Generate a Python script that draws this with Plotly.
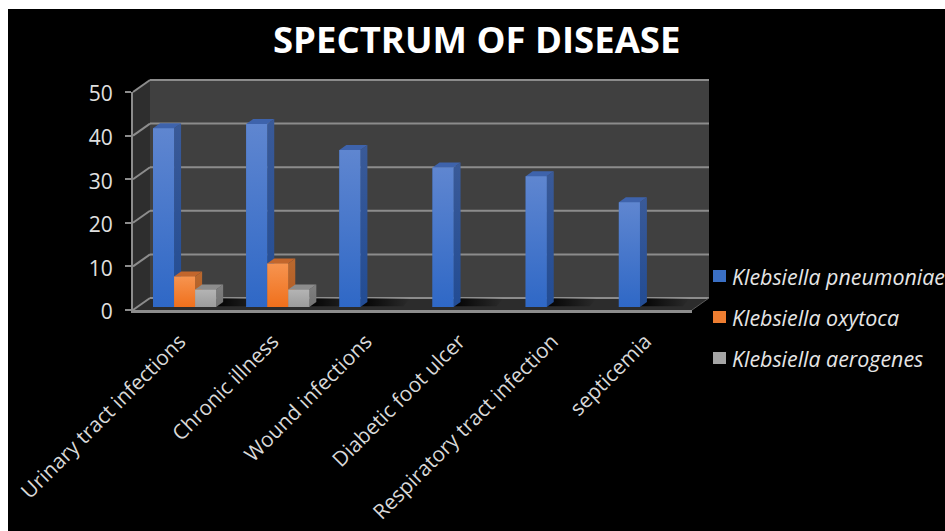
import plotly.graph_objects as go

CATEGORIES = ["Urinary tract infections", "Chronic illness", "Wound infections",
              "Diabetic foot ulcer", "Respiratory tract infection", "septicemia"]
PNEUMONIAE = [41, 42, 36, 32, 30, 24]
OXYTOCA = [7, 10, None, None, None, None]
AEROGENES = [4, 4, None, None, None, None]
SERIES_NAMES = ["Klebsiella pneumoniae", "Klebsiella oxytoca", "Klebsiella aerogenes"]
Y_TICKS = [0, 10, 20, 30, 40, 50]

W, H = 945, 531
FONT = "Open Sans"
FL, FR, FB, FT = 133, 692, 310, 92      # front plane box, px
DX, DY = 17, 12                         # wall depth, px
BX, BY = 5, 3                           # bar plane shift from the front plane, px
BAR_DX, BAR_DY = 7, 5                   # bar depth, px
GROUP = 63 / 93                         # share of a category used by bars
PX_X = (FR - FL) / len(CATEGORIES)
PX_Y = (FB - FT) / 50

STYLE = [
    dict(grad=["#2F68C6", "#5F86D0"], side=["#224C94", "#3A5A98"], top="#3E63AC", bar="#3A6FC4"),
    dict(grad=["#F0701C", "#F69450"], side=["#B35A22", "#B9692F"], top="#C2662C", bar="#ED7D31"),
    dict(grad=["#9C9C9C", "#B4B4B4"], side=["#727272", "#808080"], top="#8C8C8C", bar="#A5A5A5"),
]


def px(x):
    return x / W


def py(y):
    return 1 - y / H


def poly(points, color):
    path = "M" + " L".join(f"{px(x)},{py(y)}" for x, y in points) + " Z"
    return dict(type="path", path=path, xref="paper", yref="paper",
                fillcolor=color, line=dict(width=0), layer="below")


def seg(x0, y0, x1, y1, color="#8C8C8C", width=2):
    return dict(type="line", xref="paper", yref="paper", x0=px(x0), y0=py(y0), x1=px(x1), y1=py(y1),
                line=dict(color=color, width=width), layer="below")


def face(xs, ys, colors=None, color=None, kind="vertical"):
    kw = dict(x=xs, y=ys, xaxis="x2", yaxis="y2", mode="lines", line=dict(width=0),
              fill="toself", hoverinfo="skip", showlegend=False)
    if colors:
        kw["fillgradient"] = dict(type=kind, colorscale=[[0, colors[0]], [1, colors[1]]])
        kw["fillcolor"] = colors[0]
    else:
        kw["fillcolor"] = color
    return go.Scatter(**kw)


shapes = [
    dict(type="rect", xref="paper", yref="paper", x0=px(8), x1=1, y0=0, y1=py(9),
         fillcolor="#000000", line=dict(width=0), layer="below"),
    poly([(FL + DX, FT - DY), (FR + DX, FT - DY), (FR + DX, FB - DY), (FL + DX, FB - DY)], "#404040"),
    poly([(FL, FT), (FL + DX, FT - DY), (FL + DX, FB - DY), (FL, FB)], "#2E2E2E"),
    poly([(FL, FB), (FL + DX, FB - DY), (FR + DX, FB - DY), (FR, FB)], "#2C2C2C"),
]
for t in Y_TICKS:
    y = FB - t * PX_Y
    shapes.append(seg(FL + DX, y - DY, FR + DX, y - DY))
    shapes.append(seg(FL, y, FL + DX, y - DY))
shapes.append(seg(FR, FB, FR + DX, FB - DY, "#5A5A5A", 1))

traces = []
all_series = [PNEUMONIAE, OXYTOCA, AEROGENES]
idx = list(range(len(CATEGORIES)))
for name, vals, st in zip(SERIES_NAMES, all_series, STYLE):
    traces.append(go.Bar(x=idx, y=vals, name=name, xaxis="x2", yaxis="y2",
                         marker=dict(color=st["bar"], line=dict(width=0)), showlegend=False))

# dummy trace so the front axes (ticks, labels) are drawn
traces.append(go.Scatter(x=idx, y=[None] * len(idx), xaxis="x", yaxis="y", showlegend=False, hoverinfo="skip"))

bw = GROUP / 3
ddx, ddy = BAR_DX / PX_X, BAR_DY / PX_Y

# floor shadows
for i in idx:
    n = sum(1 for s in all_series if s[i] is not None)
    r = i - GROUP / 2 + n * bw + ddx
    sw = 36 / PX_X
    traces.append(face([r - ddx, r + sw, r + sw + ddx, r], [0.2, 0.2, 2.0, 2.0],
                       colors=["rgba(0,0,0,0.95)", "rgba(0,0,0,0)"], kind="horizontal"))

for i in idx:
    for k, (vals, st) in enumerate(zip(all_series, STYLE)):
        v = vals[i]
        if v is None:
            continue
        x0 = i - GROUP / 2 + k * bw
        x1 = x0 + bw
        traces.append(face([x1, x1 + ddx, x1 + ddx, x1, x1], [0, ddy, v + ddy, v, 0], colors=st["side"]))
        traces.append(face([x0, x1, x1 + ddx, x0 + ddx, x0], [v, v, v + ddy, v + ddy, v], color=st["top"]))
        traces.append(face([x0, x1, x1, x0, x0], [0, 0, v, v, 0], colors=st["grad"]))

annotations = [dict(text="<b>SPECTRUM OF DISEASE</b>", xref="paper", yref="paper", x=px(476.5), y=py(39),
                    xanchor="center", yanchor="middle", showarrow=False,
                    font=dict(family=FONT, size=36.5, color="#FFFFFF"))]
LEG_Y = [276, 317, 358]
for name, st, ly in zip(SERIES_NAMES, STYLE, LEG_Y):
    shapes.append(dict(type="rect", xref="paper", yref="paper", x0=px(713), x1=px(726), y0=py(ly + 6), y1=py(ly - 6),
                       fillcolor=st["bar"], line=dict(width=0)))
    annotations.append(dict(text=f"<i>{name}</i>", xref="paper", yref="paper", x=px(730), y=py(ly),
                            xanchor="left", yanchor="middle", showarrow=False, align="left",
                            font=dict(family=FONT, size=21.4, color="#E6E6E6")))

fig = go.Figure(traces)
fig.update_layout(
    width=W, height=H, autosize=False, margin=dict(l=0, r=0, t=0, b=0, pad=0),
    paper_bgcolor="#FFFFFF", plot_bgcolor="rgba(0,0,0,0)", showlegend=False,
    barmode="group", bargap=1 - GROUP, bargroupgap=0,
    shapes=shapes, annotations=annotations,
    xaxis=dict(domain=[px(FL), px(FR)], range=[-0.5, 5.5], anchor="y", tickmode="array", automargin=False,
               tickvals=idx, ticktext=CATEGORIES, tickangle=-45, ticks="", showgrid=False, zeroline=False,
               showline=True, linecolor="#8C8C8C", linewidth=3, ticklabelstandoff=8,
               tickfont=dict(family=FONT, size=20.8, color="#D9D9D9")),
    yaxis=dict(domain=[py(FB), py(FT)], range=[0, 50], anchor="x", tickmode="array", tickvals=Y_TICKS, automargin=False,
               ticks="outside", ticklen=6, tickcolor="#8C8C8C", tickwidth=2, showgrid=False, zeroline=False,
               showline=True, linecolor="#8C8C8C", linewidth=2, ticklabelstandoff=8, ticklabelshift=2,
               tickfont=dict(family=FONT, size=21, color="#E0E0E0")),
    xaxis2=dict(domain=[px(FL + BX), px(FR + BX)], range=[-0.5, 5.5], anchor="y2", visible=False, automargin=False),
    yaxis2=dict(domain=[py(FB - BY), py(FT - BY)], range=[0, 50], anchor="x2", visible=False, automargin=False),
)
fig.write_html("out.html", config={"displayModeBar": False},
               post_script="document.body.style.margin='0';document.body.style.overflow='hidden';")
